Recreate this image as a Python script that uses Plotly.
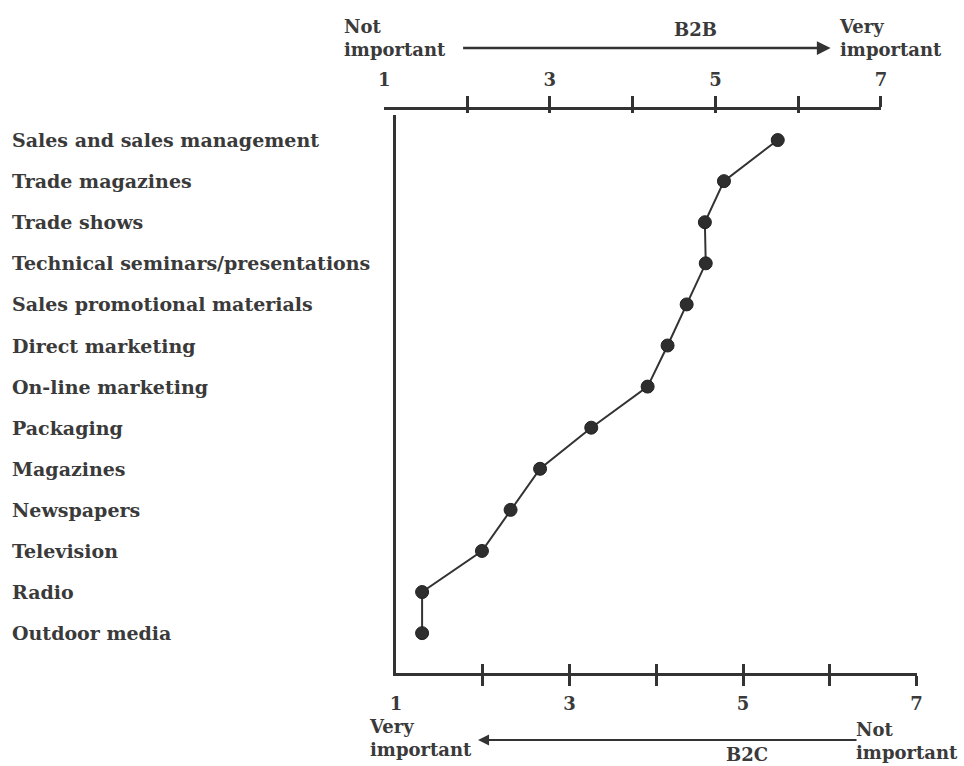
import plotly.graph_objects as go

# ---- data ----
categories = [
    "Sales and sales management",
    "Trade magazines",
    "Trade shows",
    "Technical seminars/presentations",
    "Sales promotional materials",
    "Direct marketing",
    "On-line marketing",
    "Packaging",
    "Magazines",
    "Newspapers",
    "Television",
    "Radio",
    "Outdoor media",
]
importance = [5.40, 4.78, 4.56, 4.57, 4.35, 4.13, 3.90, 3.25, 2.66, 2.32, 1.99, 1.30, 1.30]

tick_marks = [2, 3, 4, 5, 6, 7]
tick_label_vals = [1, 3, 5, 7]
tick_label_text = ["1", "3", "5", "7"]

W, H = 964, 766
FONT = "DejaVu Serif"
INK = "#333333"
TXT = "#3a3a3a"


def px(x):
    return x / W


def py(y):
    return 1 - y / H


fig = go.Figure()

fig.add_trace(go.Scatter(
    x=importance, y=categories, mode="lines+markers",
    line=dict(color=INK, width=2),
    marker=dict(size=13, color="#2e2e2e", line=dict(color="#222", width=1)),
    xaxis="x", yaxis="y", showlegend=False, hoverinfo="x+y",
))
# invisible trace so the top (B2B) axis is drawn
fig.add_trace(go.Scatter(
    x=importance, y=categories, mode="markers", marker=dict(opacity=0),
    xaxis="x2", yaxis="y", showlegend=False, hoverinfo="skip",
))

bottom_dom = [px(395), px(922)]
top_dom = [px(383), px(886)]
y_dom = [py(673), py(115)]

common = dict(range=[1, 7], showgrid=False, zeroline=False, fixedrange=True)
tfont = dict(family=FONT, size=18, color=TXT, weight="bold")

fig.update_layout(
    width=W, height=H,
    margin=dict(l=0, r=0, t=0, b=0),
    paper_bgcolor="white", plot_bgcolor="rgba(0,0,0,0)",
    font=dict(family=FONT, color=TXT, size=18),
    xaxis=dict(domain=bottom_dom, anchor="y", side="bottom", showline=True,
               linecolor=INK, linewidth=2.5, tickmode="array", tickvals=tick_marks,
               ticks="outside", ticklen=10, tickwidth=2.5, tickcolor=INK,
               showticklabels=False, **common),
    xaxis3=dict(overlaying="x", anchor="y", side="bottom", showline=False,
                tickmode="array", tickvals=tick_marks, ticks="inside", ticklen=9,
                tickwidth=2.5, tickcolor=INK, showticklabels=False, **common),
    xaxis4=dict(overlaying="x", anchor="y", side="bottom", showline=False,
                tickmode="array", tickvals=tick_label_vals, ticktext=tick_label_text,
                ticks="outside", ticklen=14, tickcolor="rgba(0,0,0,0)",
                tickfont=tfont, **common),
    xaxis2=dict(domain=top_dom, anchor="free", position=py(108), side="top",
                showline=True, linecolor=INK, linewidth=2.5, tickmode="array",
                tickvals=tick_marks, ticks="outside", ticklen=11, tickwidth=2.5,
                tickcolor=INK, showticklabels=False, **common),
    xaxis5=dict(overlaying="x2", anchor="free", position=py(108), side="top",
                showline=False, tickmode="array", tickvals=tick_marks,
                ticks="inside", ticklen=4, tickwidth=2.5, tickcolor=INK,
                showticklabels=False, **common),
    xaxis6=dict(overlaying="x2", anchor="free", position=py(108), side="top",
                showline=False, tickmode="array", tickvals=tick_label_vals,
                ticktext=tick_label_text, ticks="outside", ticklen=15,
                tickcolor="rgba(0,0,0,0)", tickfont=tfont, **common),
    yaxis=dict(domain=y_dom, anchor="x", type="category",
               categoryorder="array", categoryarray=categories,
               range=[len(categories) - 1 + 0.97, -0.61],
               showline=True, linecolor=INK, linewidth=2.5, ticks="",
               showticklabels=False, showgrid=False, zeroline=False,
               fixedrange=True),
)

for ax in ["x3", "x4", "x5", "x6"]:
    fig.add_trace(go.Scatter(x=[1, 7], y=[categories[0], categories[-1]],
                             mode="markers", marker=dict(opacity=0), xaxis=ax,
                             yaxis="y", showlegend=False, hoverinfo="skip"))

lfont = dict(family=FONT, size=19, color=TXT, weight="bold")
annotations = []
for c in categories:
    annotations.append(dict(text=c, x=px(4), xref="paper", y=c, yref="y",
                            xanchor="left", yanchor="middle", showarrow=False,
                            font=lfont))

afont = dict(family=FONT, size=18, color=TXT, weight="bold")
annotations += [
    dict(text="Not<br>important", x=px(340), y=py(38), xref="paper", yref="paper",
         xanchor="left", yanchor="middle", align="left", showarrow=False, font=afont),
    dict(text="Very<br>important", x=px(841), y=py(38), xref="paper", yref="paper",
         xanchor="left", yanchor="middle", align="left", showarrow=False, font=afont),
    dict(text="B2B", x=px(698), y=py(30), xref="paper", yref="paper",
         xanchor="center", yanchor="middle", showarrow=False, font=afont),
    dict(text="", x=px(835), y=py(48), ax=-(835 - 466), ay=0, xref="paper",
         yref="paper", axref="pixel", ayref="pixel", showarrow=True,
         arrowhead=2, arrowsize=1.1, arrowwidth=2.5, arrowcolor=INK),
    dict(text="Very<br>important", x=px(366), y=py(738), xref="paper", yref="paper",
         xanchor="left", yanchor="middle", align="left", showarrow=False, font=afont),
    dict(text="Not<br>important", x=px(859), y=py(741), xref="paper", yref="paper",
         xanchor="left", yanchor="middle", align="left", showarrow=False, font=afont),
    dict(text="B2C", x=px(750), y=py(754), xref="paper", yref="paper",
         xanchor="center", yanchor="middle", showarrow=False, font=afont),
    dict(text="", x=px(478), y=py(740), ax=(858 - 478), ay=0, xref="paper",
         yref="paper", axref="pixel", ayref="pixel", showarrow=True,
         arrowhead=2, arrowsize=1.1, arrowwidth=2, arrowcolor=INK),
]
fig.update_layout(annotations=annotations)

fig.write_html("out.html",
               config={"displayModeBar": False},
               post_script="document.body.style.margin='0px';")
